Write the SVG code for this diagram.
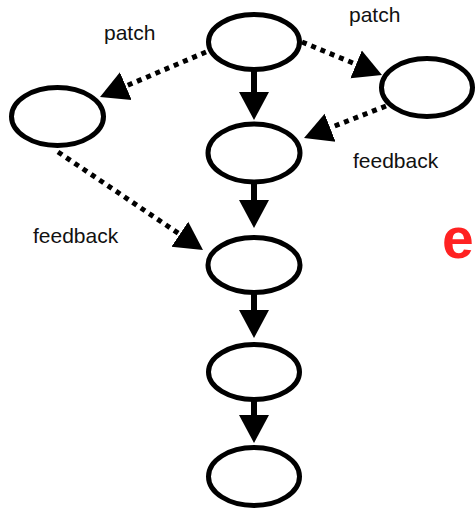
<svg xmlns="http://www.w3.org/2000/svg" width="476" height="513" viewBox="0 0 476 513">
  <style>
    .node { fill: #ffffff; stroke: #000000; stroke-width: 5; }
    .solid { stroke: #000000; stroke-width: 6; fill: none; }
    .dotted { stroke: #000000; stroke-width: 5; fill: none; stroke-dasharray: 5 5; }
    .label { font-family: "Liberation Sans", Arial, sans-serif; font-size: 21px; fill: #111111; }
    .mark { font-family: "Liberation Sans", Arial, sans-serif; font-size: 57px; font-weight: bold; fill: #ff2222; }
  </style>
  <defs>
    <marker id="head" markerUnits="userSpaceOnUse" markerWidth="30" markerHeight="32" viewBox="0 -16 30 32" refX="0" refY="0" orient="auto">
      <path d="M0,-15 L28,0 L0,15 Z" fill="#000000"/>
    </marker>
  </defs>

  <rect width="476" height="513" fill="#ffffff"/>

  <!-- connectors -->
  <g id="connectors">
    <line class="solid" x1="254" y1="70" x2="254" y2="92" marker-end="url(#head)"/>
    <line class="solid" x1="254" y1="182" x2="254" y2="200" marker-end="url(#head)"/>
    <line class="solid" x1="254" y1="293" x2="254" y2="310" marker-end="url(#head)"/>
    <line class="solid" x1="254" y1="400" x2="254" y2="415" marker-end="url(#head)"/>
    <line class="dotted" x1="206" y1="52" x2="125.8" y2="86.1" marker-end="url(#head)"/>
    <line class="dotted" x1="302" y1="42" x2="356.1" y2="64.3" marker-end="url(#head)"/>
    <line class="dotted" x1="386" y1="106" x2="330.1" y2="127.8" marker-end="url(#head)"/>
    <line class="dotted" x1="58" y1="152" x2="179.8" y2="234.3" marker-end="url(#head)"/>
  </g>

  <!-- nodes -->
  <g id="n-top"><ellipse class="node" cx="254" cy="42" rx="45.5" ry="27.5"/></g>
  <g id="n-left"><ellipse class="node" cx="57.5" cy="116.5" rx="46" ry="29"/></g>
  <g id="n-right"><ellipse class="node" cx="427" cy="87.5" rx="45.5" ry="29"/></g>
  <g id="n-2"><ellipse class="node" cx="254" cy="153" rx="46" ry="29"/></g>
  <g id="n-3"><ellipse class="node" cx="254" cy="265" rx="46" ry="27.5"/></g>
  <g id="n-4"><ellipse class="node" cx="254" cy="372" rx="45.5" ry="27.5"/></g>
  <g id="n-5"><ellipse class="node" cx="254" cy="476.5" rx="45.5" ry="29"/></g>

  <!-- edge labels -->
  <text class="label" x="104" y="40">patch</text>
  <text class="label" x="349" y="22">patch</text>
  <text class="label" x="353" y="168">feedback</text>
  <text class="label" x="33" y="243">feedback</text>

  <text class="mark" x="442" y="258">e</text>
</svg>
